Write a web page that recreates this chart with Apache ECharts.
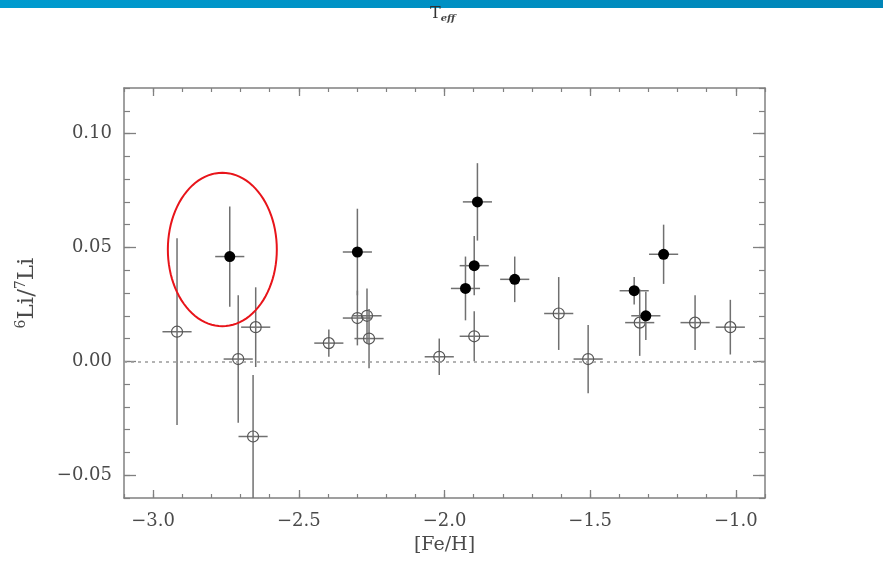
<!DOCTYPE html>
<html><head><meta charset="utf-8">
<script src="https://cdn.jsdelivr.net/npm/echarts@6/dist/echarts.min.js"></script>
<style>html,body{margin:0;padding:0;background:#fff}#c{width:883px;height:587px}</style>
</head><body><div id="c"></div>
<script>
// Tick labels
const xTicks = [-3.0, -2.5, -2.0, -1.5, -1.0];
const yTicks = [-0.05, 0.00, 0.05, 0.10];
// Open circles: [Fe/H], 6Li/7Li, error
const openFeH   = [-2.918, -2.708, -2.648, -2.657, -2.397, -2.299, -2.266, -2.259, -2.018, -1.898, -1.608, -1.507, -1.330, -1.140, -1.019];
const openRatio = [0.013, 0.001, 0.015, -0.033, 0.008, 0.019, 0.020, 0.010, 0.002, 0.011, 0.021, 0.001, 0.017, 0.017, 0.015];
const openErr   = [0.041, 0.028, 0.0175, 0.027, 0.006, 0.012, 0.012, 0.013, 0.008, 0.011, 0.016, 0.015, 0.0146, 0.012, 0.012];
// Filled circles
const filledFeH   = [-2.737, -2.299, -1.928, -1.898, -1.887, -1.759, -1.349, -1.309, -1.248];
const filledRatio = [0.046, 0.048, 0.032, 0.042, 0.070, 0.036, 0.031, 0.020, 0.047];
const filledErr   = [0.022, 0.019, 0.014, 0.013, 0.017, 0.010, 0.006, 0.0106, 0.013];
const fehErr = 0.05;
// Highlight ellipse (data space): center [Fe/H], center ratio, half-width, half-height
const highlight = [-2.7625, 0.0491, 0.187, 0.0337];

const chart = echarts.init(document.getElementById('c'));
const FRAME = '#808080';
const FONT = 'DejaVu Serif';
const XMIN = -3.1, XMAX = -0.9, YMIN = -0.06, YMAX = 0.12;

function fmtX(v){ return (v < 0 ? '\u2212' : '') + Math.abs(v).toFixed(1); }
function fmtY(v){ return (v < -1e-9 ? '\u2212' : '') + Math.abs(v).toFixed(2); }

function errRender(filled){
  return function(params, api){
    const x = api.value(0), y = api.value(1), e = api.value(2);
    const c = api.coord([x, y]);
    const t = api.coord([x, y + e]);
    const b = api.coord([x, y - e]);
    const l = api.coord([x - fehErr, y]);
    const r = api.coord([x + fehErr, y]);
    const ls = {stroke: '#707070', lineWidth: 1.5};
    return {type: 'group', children: [
      {type: 'line', shape: {x1: c[0], y1: t[1], x2: c[0], y2: b[1]}, style: ls},
      {type: 'line', shape: {x1: l[0], y1: c[1], x2: r[0], y2: c[1]}, style: ls},
      {type: 'circle', shape: {cx: c[0], cy: c[1], r: 5.5},
       style: filled ? {fill: '#000'} : {fill: 'none', stroke: '#555', lineWidth: 1.2}}
    ]};
  };
}

function ellipseRender(params, api){
  const c = api.coord([api.value(0), api.value(1)]);
  const e = api.coord([api.value(0) + api.value(2), api.value(1) + api.value(3)]);
  const rx = e[0] - c[0], ry = c[1] - e[1];
  const pts = [];
  for (let i = 0; i < 96; i++) {
    const a = i / 96 * Math.PI * 2;
    pts.push([c[0] + rx * Math.cos(a), c[1] + ry * Math.sin(a)]);
  }
  return {type: 'polygon', shape: {points: pts}, style: {fill: 'none', stroke: '#e8141a', lineWidth: 2}};
}

function xAxisMajor(pos, showLabel){
  return {
    type: 'value', position: pos, min: XMIN, max: XMAX,
    axisLine: {show: true, onZero: false, lineStyle: {color: FRAME, width: 1.5}},
    axisTick: {show: true, inside: true, length: 8, customValues: xTicks, lineStyle: {color: FRAME, width: 1.3}},
    axisLabel: showLabel ? {show: true, customValues: xTicks, formatter: fmtX, margin: 14,
      fontFamily: FONT, fontSize: 18, color: '#4a4a4a'} : {show: false},
    splitLine: {show: false},
    name: showLabel ? '[Fe/H]' : '', nameLocation: 'middle', nameGap: 38,
    nameTextStyle: {fontFamily: FONT, fontSize: 19, color: '#4a4a4a'}
  };
}
function xAxisMinor(pos){
  return {
    type: 'value', position: pos, min: XMIN, max: XMAX, interval: 0.1,
    axisLine: {show: false, onZero: false},
    axisTick: {show: true, inside: true, length: 4, lineStyle: {color: FRAME, width: 1.2}},
    axisLabel: {show: false}, splitLine: {show: false}
  };
}
function yAxisMajor(pos, showLabel){
  return {
    type: 'value', position: pos, min: YMIN, max: YMAX,
    axisLine: {show: true, onZero: false, lineStyle: {color: FRAME, width: 1.5}},
    axisTick: {show: true, inside: true, length: 12, customValues: yTicks, lineStyle: {color: FRAME, width: 1.3}},
    axisLabel: showLabel ? {show: true, customValues: yTicks, formatter: fmtY, margin: 12,
      fontFamily: FONT, fontSize: 18, color: '#4a4a4a'} : {show: false},
    splitLine: {show: false},
    name: showLabel ? '{s|6}{b|Li/}{s|7}{b|Li}' : '', nameLocation: 'middle', nameGap: 84, nameRotate: 90,
    nameTextStyle: {fontFamily: FONT, color: '#4a4a4a',
      rich: {s: {fontFamily: FONT, fontSize: 14, color: '#4a4a4a', verticalAlign: 'top', lineHeight: 26},
             b: {fontFamily: FONT, fontSize: 23, color: '#4a4a4a', lineHeight: 26}}}
  };
}
function yAxisMinor(pos){
  return {
    type: 'value', position: pos, min: YMIN, max: YMAX, interval: 0.01,
    axisLine: {show: false, onZero: false},
    axisTick: {show: true, inside: true, length: 6, lineStyle: {color: FRAME, width: 1.2}},
    axisLabel: {show: false}, splitLine: {show: false}
  };
}

const option = {
  backgroundColor: '#fff',
  animation: false,
  grid: {left: 124, right: 118, top: 88, bottom: 89, containLabel: false},
  xAxis: [xAxisMajor('bottom', true), xAxisMinor('bottom'), xAxisMajor('top', false), xAxisMinor('top')],
  yAxis: [yAxisMajor('left', true), yAxisMinor('left'), yAxisMajor('right', false), yAxisMinor('right')],
  graphic: [
    {type: 'rect', left: 0, top: 0, shape: {width: 883, height: 8}, z: 10,
     style: {fill: new echarts.graphic.LinearGradient(0, 0, 1, 0, [
       {offset: 0, color: '#009bcf'}, {offset: 1, color: '#0085b7'}])}},
    {type: 'text', left: 430, top: 6, z: 10,
     style: {text: '{t|T}{e|eff}', rich: {
       t: {fontFamily: FONT, fontSize: 16, fill: '#333', lineHeight: 19},
       e: {fontFamily: FONT, fontSize: 10, fontStyle: 'italic', fontWeight: 'bold', fill: '#444', verticalAlign: 'bottom', lineHeight: 19, padding: [7, 0, 0, 0]}}}}
  ],
  series: [
    {type: 'line', data: [], xAxisIndex: 0, yAxisIndex: 0, silent: true,
     markLine: {silent: true, symbol: 'none', label: {show: false},
       lineStyle: {color: '#9a9a9a', type: [3, 4], width: 1.5},
       data: [{yAxis: 0}]}},
    {type: 'custom', xAxisIndex: 0, yAxisIndex: 0, clip: true, renderItem: errRender(false),
     encode: {x: 0, y: 1},
     data: openFeH.map((x, i) => [x, openRatio[i], openErr[i]])},
    {type: 'custom', xAxisIndex: 0, yAxisIndex: 0, clip: true, renderItem: errRender(true),
     encode: {x: 0, y: 1},
     data: filledFeH.map((x, i) => [x, filledRatio[i], filledErr[i]])},
    {type: 'custom', xAxisIndex: 0, yAxisIndex: 0, renderItem: ellipseRender, z: 5,
     encode: {x: 0, y: 1},
     data: [highlight]}
  ]
};
chart.setOption(option);
</script></body></html>
